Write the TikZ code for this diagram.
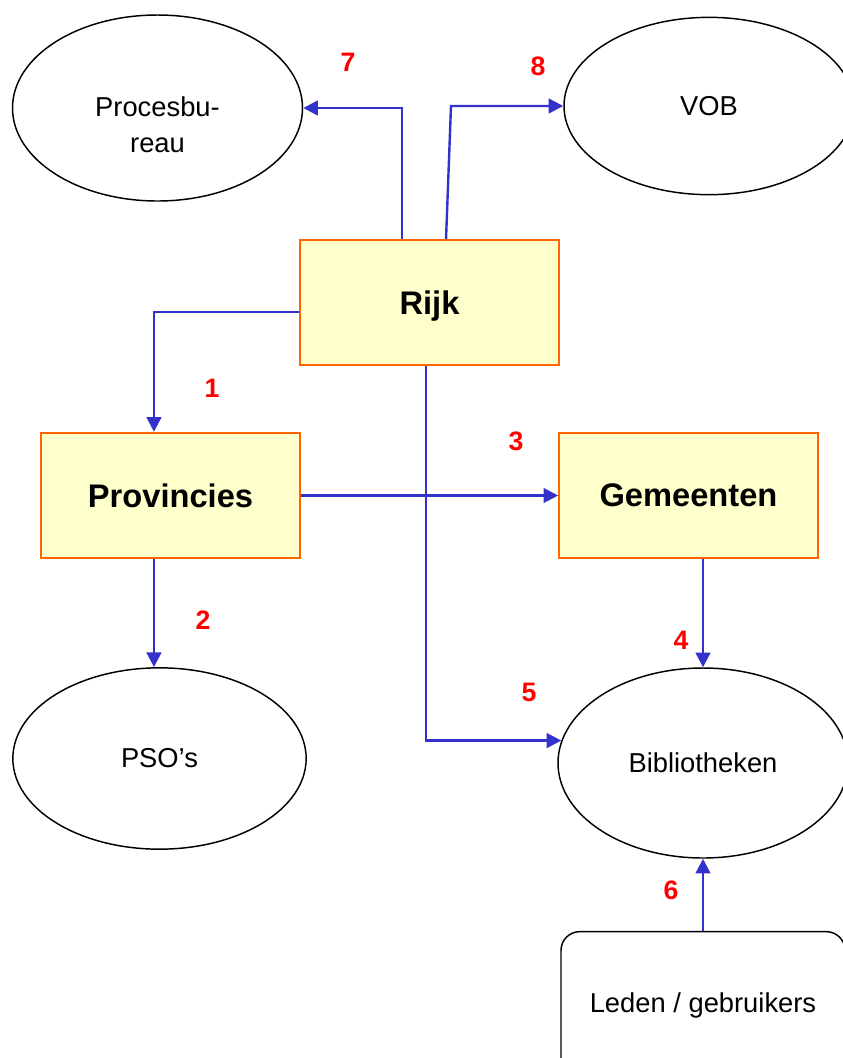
\documentclass[tikz,border=0pt]{standalone}
\usepackage{fontspec}
\setmainfont{Liberation Sans}
\usetikzlibrary{positioning}
\usetikzlibrary{shapes.geometric}
\usetikzlibrary{arrows.meta}

\definecolor{boxfill}{HTML}{FFFFCC}
\definecolor{boxline}{HTML}{FF6600}
\definecolor{flow}{HTML}{3333CC}

\tikzset{
  orgbox/.style={draw=boxline, line width=1.5pt, fill=boxfill,
    minimum width=194pt, minimum height=94pt, text depth=0pt,
    font=\fontsize{24.5}{28}\selectfont\bfseries},
  party/.style={draw, ellipse, line width=1.1pt, inner sep=0pt,
    font=\fontsize{20.5}{27}\selectfont, align=center},
  flowline/.style={draw=flow, line width=1.8pt,
    -{Triangle[length=11pt,width=11pt]}},
  num/.style={text=red, font=\fontsize{20}{22}\selectfont\bfseries},
}

\begin{document}
\begin{tikzpicture}[x=0.75pt,y=-0.75pt]
\useasboundingbox (0,0) rectangle (843,1058);
\clip (0,0) rectangle (843,1058);

% boxes
\node[orgbox] (Rijk) at (429.5,302.5) {Rijk};
\node[orgbox] (Prov) at (170.5,495.5) {Provincies};
\node[orgbox] (Gem) at (688.5,495.5) {Gemeenten};

% ellipses
\node[party, minimum width=217.5pt, minimum height=139.5pt,
  label={[font=\fontsize{20.5}{27}\selectfont, align=center, yshift=-12.75pt]center:Procesbu-\\reau}]
  (Proces) at (157.5,108) {};
\node[party, minimum width=217.5pt, minimum height=133pt] (VOB) at (709,106) {VOB};
\node[party, minimum width=220pt, minimum height=136pt] (PSO) at (159.5,758.5) {PSO’s};
\node[party, minimum width=217.5pt, minimum height=142.5pt] (Bib) at (703,763) {Bibliotheken};
\node[draw, rounded corners=14pt, line width=1.1pt, minimum width=213pt, minimum height=110pt,
  font=\fontsize{20.5}{24}\selectfont] (Leden) at (703,1005) {Leden / gebruikers};

% connectors
\coordinate (vobknee) at (451,106);
\draw[flowline] ([xshift=-20.6pt]Rijk.north) |- (Proces.east);
\draw[flowline] ([xshift=12.4pt]Rijk.north) -- (vobknee) -- (VOB.west);
\draw[flowline] ([yshift=-7.1pt]Rijk.west) -| ([xshift=-12.4pt]Prov.north);
\draw[flowline] ([xshift=-12.4pt]Prov.south) -- ([xshift=-12.4pt]Prov.south |- PSO.north);
\draw[flowline] (Prov.east) -- (Gem.west);
\draw[flowline] ([xshift=-2.6pt]Rijk.south) |- (Bib.171);
\draw[flowline] (Gem.south -| Bib.north) -- (Bib.north);
\draw[flowline] (Leden.north) -- (Bib.south);

% numbers
\node[num] (n1) at (212,388) {1};
\node[num] (n2) at (203,620) {2};
\node[num] (n3) at (516,441) {3};
\node[num] (n4) at (681,640) {4};
\node[num] (n5) at (529,692) {5};
\node[num] (n6) at (671,890) {6};
\node[num] (n7) at (348,62) {7};
\node[num] (n8) at (538,66) {8};

\end{tikzpicture}
\end{document}
